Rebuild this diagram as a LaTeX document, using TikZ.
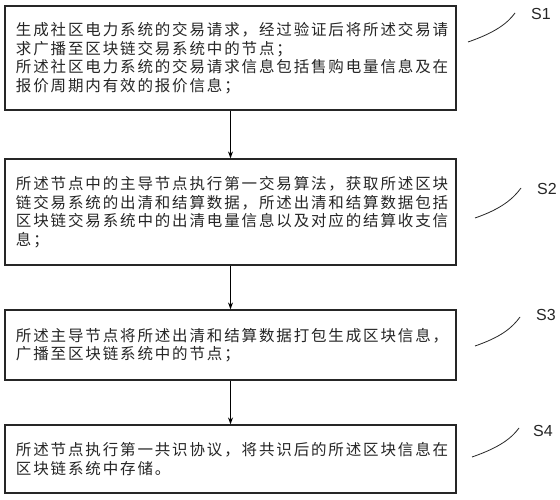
\documentclass[tikz,border=0pt]{standalone}
\usepackage{fontspec}
\setmainfont{Liberation Sans}
\newfontfamily\cjk[LetterSpace=12]{Noto Sans CJK SC}
\usetikzlibrary{arrows.meta}
\begin{document}
\begin{tikzpicture}[x=1bp,y=-1bp,
  stepbox/.style={draw=black!85, line width=1.2bp, rectangle, minimum width=451bp,
    text width=429bp, inner xsep=11bp, inner ysep=0pt, align=left, text=black!85,
    font=\cjk\fontsize{15.5bp}{18.5bp}\selectfont},
  flow/.style={line width=1.5bp, draw=black, -{Stealth[length=7bp,width=5bp]}},
  lead/.style={line width=0.8bp, draw=black!85},
  steplabel/.style={font=\fontsize{16bp}{18bp}\selectfont, inner sep=0pt, text=black!85}]
\useasboundingbox[fill=white] (0,0) rectangle (560,500);

\node[stepbox, minimum height=104bp] (b1) at (230.5,58)
  {生成社区电力系统的交易请求，经过验证后将所述交易请\\
   求广播至区块链交易系统中的节点；\\
   所述社区电力系统的交易请求信息包括售购电量信息及在\\
   报价周期内有效的报价信息；};
\node[stepbox, minimum height=106bp] (b2) at (230.5,212)
  {所述节点中的主导节点执行第一交易算法，获取所述区块\\
   链交易系统的出清和结算数据，所述出清和结算数据包括\\
   区块链交易系统中的出清电量信息以及对应的结算收支信\\
   息；};
\node[stepbox, minimum height=70bp] (b3) at (230.5,345)
  {所述主导节点将所述出清和结算数据打包生成区块信息，\\
   广播至区块链系统中的节点；};
\node[stepbox, minimum height=68bp] (b4) at (230.5,459)
  {所述节点执行第一共识协议，将共识后的所述区块信息在\\
   区块链系统中存储。};

\draw[flow] (b1.south) -- (b2.north);
\draw[flow] (b2.south) -- (b3.north);
\draw[flow] (b3.south) -- (b4.north);

\node[steplabel] (s1) at (541,14) {S1};
\node[steplabel] (s2) at (547,189) {S2};
\node[steplabel] (s3) at (546,315) {S3};
\node[steplabel] (s4) at (543,431) {S4};

\coordinate (l1a) at (468,42);  \coordinate (l1b) at (515,13);
\coordinate (l2a) at (475,218); \coordinate (l2b) at (521,188);
\coordinate (l3a) at (475,346); \coordinate (l3b) at (520,317);
\coordinate (l4a) at (472,457); \coordinate (l4b) at (519,428);

\draw[lead] (l1a) .. controls ([xshift=26bp,yshift=9bp]l1a) and ([xshift=-8bp,yshift=-11bp]l1b) .. (l1b);
\draw[lead] (l2a) .. controls ([xshift=26bp,yshift=9bp]l2a) and ([xshift=-8bp,yshift=-11bp]l2b) .. (l2b);
\draw[lead] (l3a) .. controls ([xshift=26bp,yshift=9bp]l3a) and ([xshift=-8bp,yshift=-11bp]l3b) .. (l3b);
\draw[lead] (l4a) .. controls ([xshift=26bp,yshift=9bp]l4a) and ([xshift=-8bp,yshift=-11bp]l4b) .. (l4b);
\end{tikzpicture}
\end{document}
